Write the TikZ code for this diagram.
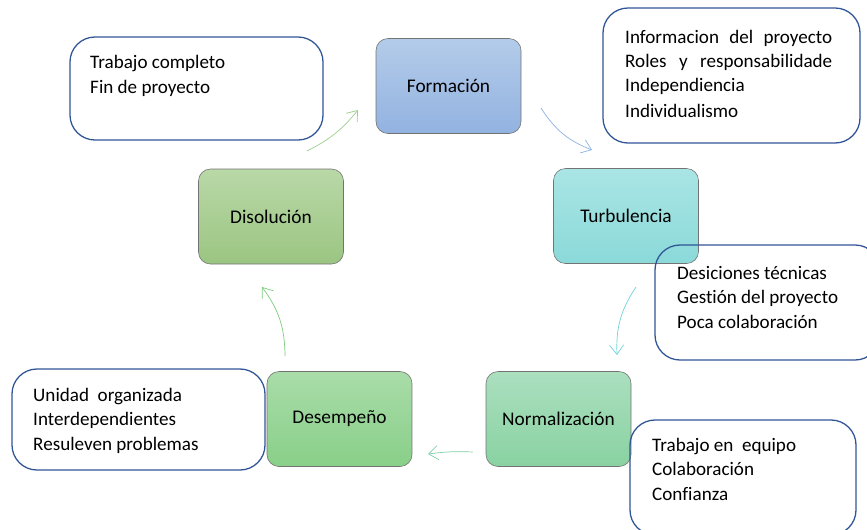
\documentclass[tikz,border=0pt]{standalone}
\usepackage{fontspec}
\setmainfont{Carlito}[Ligatures=NoCommon]
\usetikzlibrary{arrows.meta}
\definecolor{noteblue}{HTML}{2F5597}
\definecolor{formtop}{HTML}{B4CCEA}
\definecolor{formbot}{HTML}{92B2E0}
\definecolor{turbtop}{HTML}{AAE5E5}
\definecolor{turbbot}{HTML}{8BD9D9}
\definecolor{normtop}{HTML}{ABDFBF}
\definecolor{normbot}{HTML}{89D2A1}
\definecolor{desetop}{HTML}{A9DCA9}
\definecolor{desebot}{HTML}{89CF89}
\definecolor{disotop}{HTML}{B9D8A7}
\definecolor{disobot}{HTML}{9BC582}
\tikzset{
  stage/.style={draw=black!55, line width=0.5pt, rounded corners=0.36cm,
    minimum width=4.35cm, minimum height=2.85cm,
    font=\fontsize{16.5}{20.5}\selectfont},
  note/.style={draw=noteblue, line width=1.1pt, rounded corners=0.75cm, inner sep=0},
  notetext/.style={anchor=base west, inner sep=0, align=left,
    font=\fontsize{16.3}{20.5}\selectfont},
  cycarrow/.style={line width=0.6pt, -{Straight Barb[length=8pt,width=12pt]}},
}
\begin{document}
\begin{tikzpicture}[x=0.03cm, y=-0.03cm]
    \useasboundingbox (0,0) rectangle (867,529);
    \clip (0,0) rectangle (867,529);
    % stages
    \node[stage, top color=formtop, bottom color=formbot] (form) at (448.5,86) {Formación};
    \node[stage, top color=turbtop, bottom color=turbbot] (turb) at (626,216) {Turbulencia};
    \node[stage, top color=normtop, bottom color=normbot] (norm) at (558.5,419) {Normalización};
    \node[stage, top color=desetop, bottom color=desebot] (dese) at (339.5,419) {Desempeño};
    \node[stage, top color=disotop, bottom color=disobot] (diso) at (271,216.5) {Disolución};
    % notes (text placed by the baseline of its last line)
    \node[note, minimum width=7.59cm, minimum height=3.09cm] (finnote) at (196.5,88.5) {};
    \node[notetext] (fintext) at (90,93) {Trabajo completo\\Fin de proyecto};
    \node[note, minimum width=7.71cm, minimum height=4.05cm] (formnote) at (731.5,75.5) {};
    \node[notetext] (formtext) at (625,117) {\makebox[6.21cm][s]{Informacion del proyecto}\\
        \makebox[6.21cm][s]{Roles y responsabilidade}\\Independiencia\\[1pt]Individualismo};
    \node[note, minimum width=6.75cm, minimum height=3.45cm] (turbnote) at (767.5,302.5) {};
    \node[notetext] (turbtext) at (677,328) {Desiciones técnicas\\Gestión del proyecto\\Poca colaboración};
    \node[note, minimum width=7.59cm, minimum height=3.03cm] (desenote) at (138.5,419.5) {};
    \node[notetext] (desetext) at (33,450) {Unidad\ \ organizada\\Interdependientes\\Resuleven problemas};
    \node[note, minimum width=6.78cm, minimum height=3.45cm] (normnote) at (743,477.5) {};
    \node[notetext] (normtext) at (652,500) {Trabajo en\ \ equipo\\Colaboración\\Confianza};
    % arrows
    \coordinate (fo1) at (541,108); \coordinate (fo2) at (592,150);
    \coordinate (tu1) at (636,287); \coordinate (tu2) at (617,355);
    \coordinate (no1) at (473,452); \coordinate (no2) at (428,454);
    \coordinate (de1) at (285,356); \coordinate (de2) at (262,287);
    \coordinate (di1) at (307,151); \coordinate (di2) at (358,110);
    \draw[cycarrow, color={rgb,255:red,141;green,179;blue,226}] (fo1) to[bend right=18] (fo2);
    \draw[cycarrow, color={rgb,255:red,111;green,211;blue,218}] (tu1) to[bend right=18] (tu2);
    \draw[cycarrow, color={rgb,255:red,128;green,208;blue,168}] (no1) to[bend right=5] (no2);
    \draw[cycarrow, color={rgb,255:red,124;green,203;blue,124}] (de1) to[bend right=18] (de2);
    \draw[cycarrow, color={rgb,255:red,152;green,208;blue,138}] (di1) to[bend right=12] (di2);
\end{tikzpicture}
\end{document}
